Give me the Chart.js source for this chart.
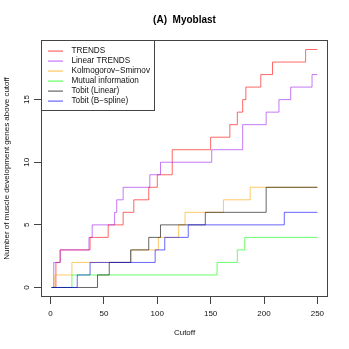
<!DOCTYPE html>
<html>
<head>
<meta charset="utf-8">
<script src="https://cdn.jsdelivr.net/npm/chart.js@4.4.1/dist/chart.umd.min.js"></script>
<style>
  html, body { margin: 0; padding: 0; background: #fff; }
  #wrap { width: 349px; height: 349px; }
</style>
</head>
<body>
<div id="wrap"><canvas id="chart" width="349" height="349"></canvas></div>
<script>
const xTicks = [0, 50, 100, 150, 200, 250];
const yTicks = [0, 5, 10, 15];

// cutoff where each count begins, and the count from there on
const trendsX = [1, 5, 9, 37, 54, 68, 78, 92, 100, 114, 150, 168, 175, 180, 183, 197, 208, 239, 250];
const trendsY = [0, 2, 3, 4, 5, 6, 7, 8, 9, 11, 12, 13, 14, 15, 16, 17, 18, 19, 19];

const linTrendsX = [1, 3, 9, 36, 39, 60, 62, 68, 93, 103, 151, 180, 202, 214, 225, 245, 250];
const linTrendsY = [0, 2, 3, 4, 5, 6, 7, 8, 9, 10, 11, 13, 14, 15, 16, 17, 17];

const ksX = [1, 4, 20, 76, 101, 120, 126, 162, 187, 250];
const ksY = [0, 1, 2, 3, 4, 5, 6, 7, 8, 8];

const miX = [1, 20, 156, 175, 182, 250];
const miY = [0, 1, 2, 3, 4, 4];

const tobitLinX = [1, 44, 55, 75, 92, 103, 145, 202, 250];
const tobitLinY = [0, 1, 2, 3, 4, 5, 6, 8, 8];

const tobitSplX = [1, 25, 37, 98, 107, 129, 219, 250];
const tobitSplY = [0, 1, 2, 3, 4, 5, 6, 6];

const seriesNames = ['TRENDS', 'Linear TRENDS', 'Kolmogorov\u2212Smirnov', 'Mutual information', 'Tobit (Linear)', 'Tobit (B\u2212spline)'];
const seriesColors = ['rgba(255,0,0,0.6)', 'rgba(160,32,240,0.6)', 'rgba(255,165,0,0.6)', 'rgba(0,255,0,0.6)', 'rgba(0,0,0,0.6)', 'rgba(0,0,255,0.6)'];
const seriesX = [trendsX, linTrendsX, ksX, miX, tobitLinX, tobitSplX];
const seriesY = [trendsY, linTrendsY, ksY, miY, tobitLinY, tobitSplY];

const FONT = '"Liberation Sans", Arial, Helvetica, sans-serif';
const axisColor = '#444';

function toPoints(xs, ys) {
  return xs.map((x, i) => ({ x: x, y: ys[i] }));
}

const datasets = seriesNames.map((name, i) => ({
  label: name,
  data: toPoints(seriesX[i], seriesY[i]),
  borderColor: seriesColors[i],
  backgroundColor: seriesColors[i],
  borderWidth: 1,
  pointRadius: 0,
  stepped: true,
  fill: false,
  order: -i
}));

const frameBox = {
  id: 'frameBox',
  afterDraw(chart) {
    const a = chart.chartArea;
    const ctx = chart.ctx;
    ctx.save();
    ctx.strokeStyle = axisColor;
    ctx.lineWidth = 1;
    ctx.strokeRect(Math.round(a.left) + 0.5, Math.round(a.top) + 0.5,
      Math.round(a.right - a.left) - 1, Math.round(a.bottom - a.top) - 1);
    ctx.restore();
  }
};

const boxLegend = {
  id: 'boxLegend',
  afterDraw(chart) {
    const a = chart.chartArea;
    const ctx = chart.ctx;
    const left = Math.round(a.left) + 0.5;
    const top = Math.round(a.top) + 0.5;
    ctx.save();
    ctx.fillStyle = '#fff';
    ctx.fillRect(left, top, 113, 70);
    ctx.strokeStyle = axisColor;
    ctx.lineWidth = 1;
    ctx.strokeRect(left, top, 113, 70);
    ctx.font = '8.2px ' + FONT;
    ctx.textBaseline = 'middle';
    seriesNames.forEach((name, i) => {
      const y = Math.round(top + 10.5 + i * 9.9);
      ctx.fillStyle = seriesColors[i];
      ctx.fillRect(left + 6.5, y - 0.5, 15, 1.2);
      ctx.fillStyle = '#111';
      ctx.fillText(name, left + 30, y);
    });
    ctx.restore();
  }
};

new Chart(document.getElementById('chart'), {
  type: 'line',
  data: { datasets: datasets },
  plugins: [frameBox, boxLegend],
  options: {
    responsive: false,
    animation: false,
    devicePixelRatio: 1,
    layout: { padding: { left: 0, right: 21, top: 0, bottom: 0 } },
    plugins: {
      legend: { display: false },
      tooltip: { enabled: false },
      title: {
        display: true,
        text: '(A)  Myoblast',
        fullSize: false,
        color: '#000',
        font: { family: FONT, size: 10, weight: 'bold' },
        padding: { top: 14, bottom: 14 }
      }
    },
    scales: {
      x: {
        type: 'linear',
        min: -8.96,
        max: 259.96,
        afterBuildTicks: s => { s.ticks = xTicks.map(v => ({ value: v })); },
        afterFit: s => { s.height = 52; },
        grid: { display: true, drawOnChartArea: false, drawTicks: true, tickLength: 7, color: axisColor },
        border: { display: false },
        ticks: { color: '#111', font: { family: FONT, size: 8 }, padding: 4.5, maxRotation: 0, autoSkip: false },
        title: { display: true, text: 'Cutoff', color: '#111', font: { family: FONT, size: 8 }, padding: { top: 0, bottom: 11 } }
      },
      y: {
        type: 'linear',
        min: -0.76,
        max: 19.76,
        afterBuildTicks: s => { s.ticks = yTicks.map(v => ({ value: v })); },
        afterFit: s => { s.width = 41; },
        grid: { display: true, drawOnChartArea: false, drawTicks: true, tickLength: 7, color: axisColor },
        border: { display: false },
        ticks: { color: '#111', font: { family: FONT, size: 8 }, padding: 2.5, minRotation: 90, maxRotation: 90, crossAlign: 'center', autoSkip: false },
        title: { display: true, text: 'Number of muscle development genes above cutoff', color: '#111', font: { family: FONT, size: 8 }, padding: { top: 2, bottom: 0 } }
      }
    }
  }
});
</script>
</body>
</html>
